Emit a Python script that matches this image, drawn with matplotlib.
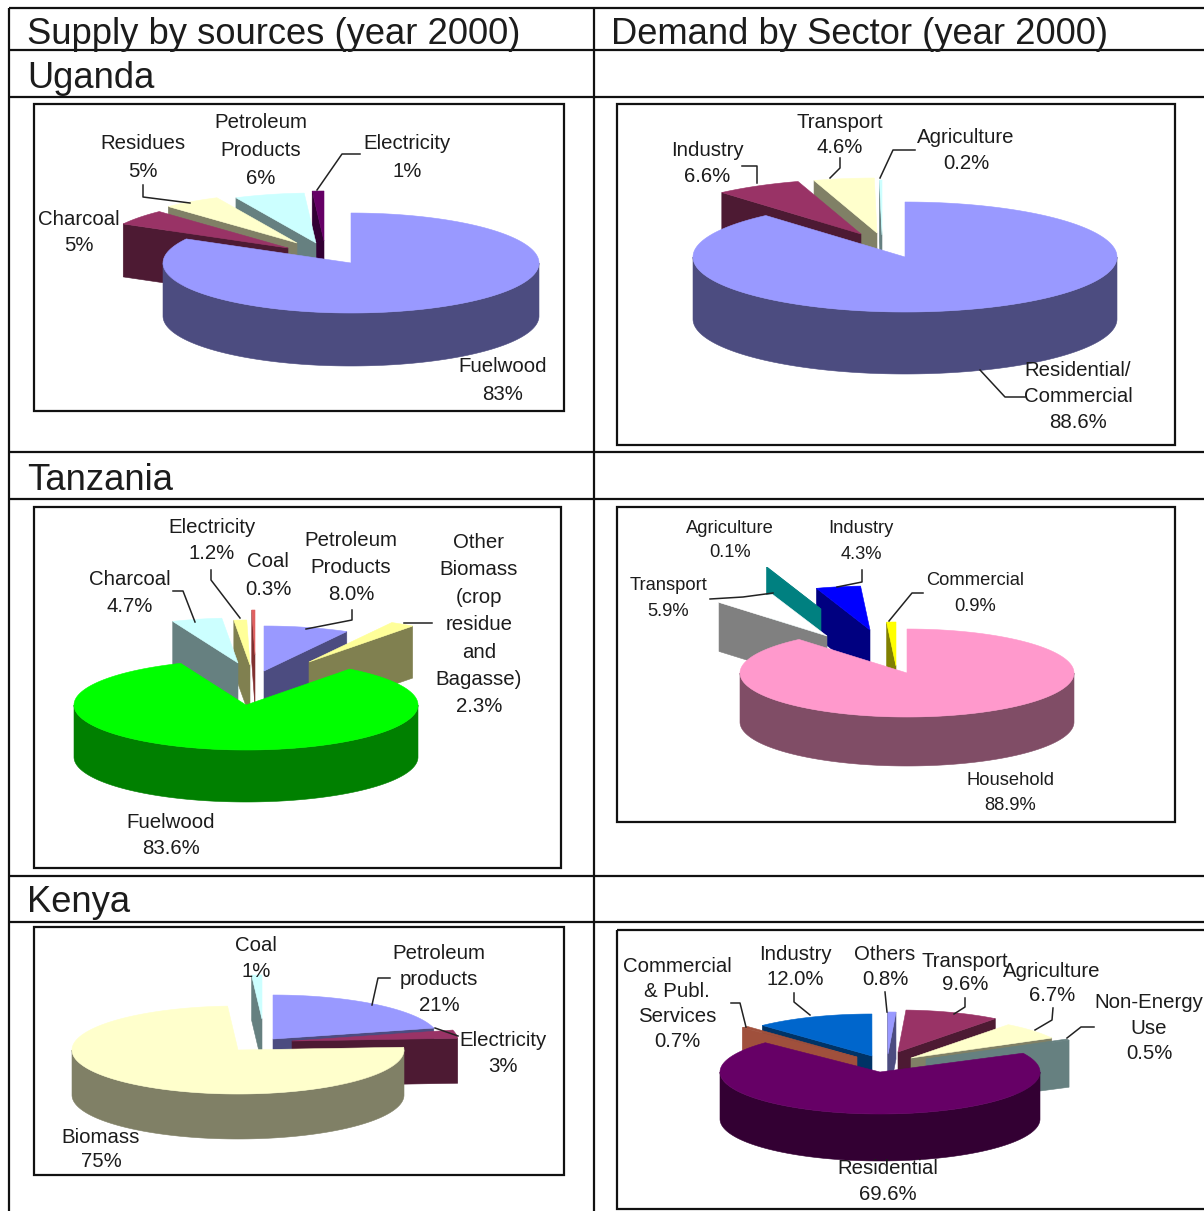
import numpy as np
import matplotlib
matplotlib.use("Agg")
import matplotlib.pyplot as plt
from matplotlib.patches import Polygon, Rectangle

plt.rcParams['font.family'] = ['Liberation Sans', 'DejaVu Sans']

# ---------- data ----------
headers = ["Supply by sources (year 2000)", "Demand by Sector (year 2000)"]
countries = ["Uganda", "Tanzania", "Kenya"]

ug_sup_names = ["Fuelwood", "Charcoal", "Residues", "Petroleum\nProducts", "Electricity"]
ug_sup_vals = [83, 5, 5, 6, 1]
ug_dem_names = ["Residential/\nCommercial", "Industry", "Transport", "Agriculture"]
ug_dem_vals = [88.6, 6.6, 4.6, 0.2]
tz_sup_names = ["Petroleum\nProducts", "Other\nBiomass\n(crop\nresidue\nand\nBagasse)", "Fuelwood", "Charcoal", "Electricity", "Coal"]
tz_sup_vals = [8.0, 2.3, 83.6, 4.7, 1.2, 0.3]
tz_dem_names = ["Household", "Transport", "Agriculture", "Industry", "Commercial"]
tz_dem_vals = [88.9, 5.9, 0.1, 4.3, 0.9]
ke_sup_names = ["Petroleum\nproducts", "Electricity", "Biomass", "Coal"]
ke_sup_vals = [21, 3, 75, 1]
ke_dem_names = ["Residential", "Commercial\n& Publ.\nServices", "Industry", "Others", "Transport", "Agriculture", "Non-Energy\nUse"]
ke_dem_vals = [69.6, 0.7, 12.0, 0.8, 9.6, 6.7, 0.5]

# ---------- styles and layout ----------
BLUE = ("#9999FF", "#4C4C80"); PLUM = ("#993366", "#4D1A33"); CREAM = ("#FFFFCC", "#808066")
AQUA = ("#CCFFFF", "#668080"); PURP = ("#660066", "#330033"); OLIVE = ("#FFFF99", "#808050")

charts = [
    dict(names=ug_sup_names, vals=ug_sup_vals, dec=0, box=(34, 104, 564, 411),
         c=(351, 263), r=(188, 50), d=53, start=0,
         off=[(0, 0), (-63, -15), (-54, -20), (-35, -20), (-27, -22)],
         col=[BLUE, PLUM, CREAM, AQUA, PURP], fs=14.7,
         lab=[(503, 365, 28), (79, 218, 26), (143, 142, 28), (261, 121, 28), (407, 142, 28)],
         lead=[[(360, 154), (342, 154), (317, 190)], [(143, 185), (143, 197), (190, 203)]]),
    dict(names=ug_dem_names, vals=ug_dem_vals, dec=1, box=(617, 104, 1175, 445),
         c=(905, 257), r=(212, 55), d=62, start=0,
         off=[(0, 0), (-44, -23), (-28, -24), (-23, -22)],
         col=[BLUE, PLUM, CREAM, AQUA], fs=14.7,
         lab=[(1078, 369, 26), (707, 149, 26), (840, 121, 25), (966, 136, 26)],
         lead=[[(1025, 397), (1005, 397), (980, 370)], [(742, 166), (757, 166), (757, 183)],
               [(840, 158), (840, 168), (830, 178)], [(915, 150), (893, 150), (880, 178)]]),
    dict(names=tz_sup_names, vals=tz_sup_vals, dec=1, box=(34, 507, 561, 868),
         c=(246, 705), r=(172, 45), d=52, start=0,
         off=[(18, -34), (63, -43), (0, 0), (-8, -42), (4, -40), (9, -50)],
         col=[BLUE, OLIVE, ("#00FF00", "#008000"), AQUA, OLIVE, ("#E06060", "#803030")], fs=14.7,
         lab=[(351, 539, 27), (479, 541, 27.4), (171, 821, 26), (130, 578, 27), (212, 526, 26), (268, 560, 28)],
         lead=[[(352, 610), (352, 620), (306, 629)], [(432, 623), (404, 623)],
               [(173, 591), (183, 591), (195, 622)], [(211, 570), (211, 580), (240, 618)]]),
    dict(names=tz_dem_names, vals=tz_dem_vals, dec=1, box=(617, 507, 1175, 822),
         c=(907, 673), r=(167, 44), d=49, start=0,
         off=[(0, 0), (-80, -37), (-86, -64), (-37, -43), (-11, -7)],
         col=[("#FF99CC", "#804D66"), ("#FFFFFF", "#808080"), ("#008080", "#008080"),
              ("#0000FF", "#000080"), ("#FFFF00", "#808000")], fs=13.2,
         lab=[(1010, 779, 25), (668, 584, 26), (730, 527, 24), (861, 527, 26), (975, 579, 26)],
         lead=[[(710, 599), (743, 597), (773, 593)], [(862, 570), (862, 582), (837, 587)],
               [(923, 593), (912, 593), (889, 621)]]),
    dict(names=ke_sup_names, vals=ke_sup_vals, dec=0, box=(34, 927, 564, 1175),
         c=(238, 1050), r=(166, 44), d=45, start=0,
         off=[(35, -11), (54, -9), (0, 0), (24, -31)],
         col=[BLUE, PLUM, CREAM, AQUA], fs=14.7,
         lab=[(439, 952, 26), (503, 1039, 26), (101, 1136, 24), (256, 944, 26)],
         lead=[[(390, 978), (378, 978), (372, 1005)], [(458, 1036), (435, 1028)]]),
    dict(names=ke_dem_names, vals=ke_dem_vals, dec=1, box=(617, 930, 1230, 1209),
         c=(880, 1072), r=(160, 42), d=47, start=63.4,
         off=[(0, 0), (-23, -15), (-8, -16), (8, -18), (18, -20), (31, -14), (46, -13)],
         col=[PURP, ("#A0503C", "#A0503C"), ("#0066CC", "#003366"), BLUE, PLUM, CREAM,
              ("#668080", "#668080")], fs=14.7,
         lab=[(888, 1167, 26), (677, 965, 25), (795, 953, 25), (885, 953, 25), (965, 960, 23),
              (1052, 970, 24), (1149, 1001, 25.5)],
         lead=[[(731, 1003), (740, 1003), (746, 1027)], [(794, 993), (794, 1002), (810, 1015)],
               [(885, 992), (887, 1012)], [(965, 998), (965, 1007), (954, 1014)],
               [(1053, 1008), (1052, 1020), (1035, 1030)], [(1094, 1027), (1081, 1027), (1067, 1038)]]),
]

fig = plt.figure(figsize=(12.04, 12.11), dpi=100)
ax = fig.add_axes([0, 0, 1, 1])
ax.set_xlim(0, 1204)
ax.set_ylim(1211, 0)
ax.axis("off")


def rim(a, rx, ry):
    t = np.radians(a)
    return rx * np.sin(t), -ry * np.cos(t)


def poly(pts, color, z):
    ax.add_patch(Polygon(pts, closed=True, facecolor=color, edgecolor=color, lw=0.4, zorder=z))


def face_visible(a, inner, rx, ry):
    ex, ey = rim(a, rx, ry)
    ix, iy = rim(inner, rx, ry)
    nx, ny = ey, -ex
    if nx * ix + ny * iy > 0:
        ny = -ny
    return ny > 1e-6


def draw_slice(T, a1, a2, rx, ry, d, top, side, z):
    tx, ty = T
    eps = min((a2 - a1) / 2, 1)
    for a, inner in ((a1, a1 + eps), (a2, a2 - eps)):
        if face_visible(a, inner, rx, ry):
            px, py = rim(a, rx, ry)
            poly([(tx, ty), (tx + px, ty + py), (tx + px, ty + py + d), (tx, ty + d)], side, z)
    for k in (-1, 0, 1):
        lo, hi = max(a1, 90 + 360 * k), min(a2, 270 + 360 * k)
        if hi > lo:
            s = np.linspace(lo, hi, max(int(hi - lo) * 2, 2))
            xs, ys = rim(s, rx, ry)
            upper = np.column_stack([tx + xs, ty + ys])
            lower = upper[::-1] + [0, d]
            poly(np.vstack([upper, lower]), side, z)
    s = np.linspace(a1, a2, max(int(a2 - a1) * 2, 2))
    xs, ys = rim(s, rx, ry)
    pts = np.vstack([[(tx, ty)], np.column_stack([tx + xs, ty + ys])])
    poly(pts, top, z)


TEXT = "#1c1c1c"
for ch in charts:
    x0, y0, x1, y1 = ch["box"]
    ax.add_patch(Rectangle((x0, y0), x1 - x0, y1 - y0, fill=False, ec="#111111", lw=1.6, zorder=1))
    vals = np.array(ch["vals"], float)
    edges = ch["start"] + np.concatenate([[0], np.cumsum(vals)]) / vals.sum() * 360
    mids = (edges[:-1] + edges[1:]) / 2
    order = np.argsort(-np.cos(np.radians(mids)))
    rx, ry = ch["r"]
    for z, i in enumerate(order):
        T = (ch["c"][0] + ch["off"][i][0], ch["c"][1] + ch["off"][i][1])
        draw_slice(T, edges[i], edges[i + 1], rx, ry, ch["d"], ch["col"][i][0], ch["col"][i][1], 2 + z * 0.1)
    for i, name in enumerate(ch["names"]):
        lines = name.split("\n") + [f"{ch['vals'][i]:.{ch['dec']}f}%"]
        cx, y, dy = ch["lab"][i]
        for j, line in enumerate(lines):
            ax.text(cx, y + 1.5 + j * dy, line, ha="center", va="center", fontsize=ch["fs"], color=TEXT, zorder=6)
    for seg in ch["lead"]:
        xs, ys = zip(*seg)
        ax.plot(xs, ys, color="#222222", lw=1.1, zorder=5)

# table grid
for y in (8, 50, 97, 452, 499, 876, 922):
    ax.plot([9, 1204], [y, y], color="#111111", lw=1.6, zorder=1, solid_capstyle="butt")
for x in (9, 594):
    ax.plot([x, x], [8, 1211], color="#111111", lw=1.6, zorder=1, solid_capstyle="butt")

ax.text(27, 35, headers[0], ha="left", va="center", fontsize=26.2, color=TEXT)
ax.text(611, 35, headers[1], ha="left", va="center", fontsize=26.2, color=TEXT)
for name, y in zip(countries, (78, 481, 903)):
    ax.text(27, y, name, ha="left", va="center", fontsize=26.2, color=TEXT)

fig.savefig("out.png", dpi=100)
